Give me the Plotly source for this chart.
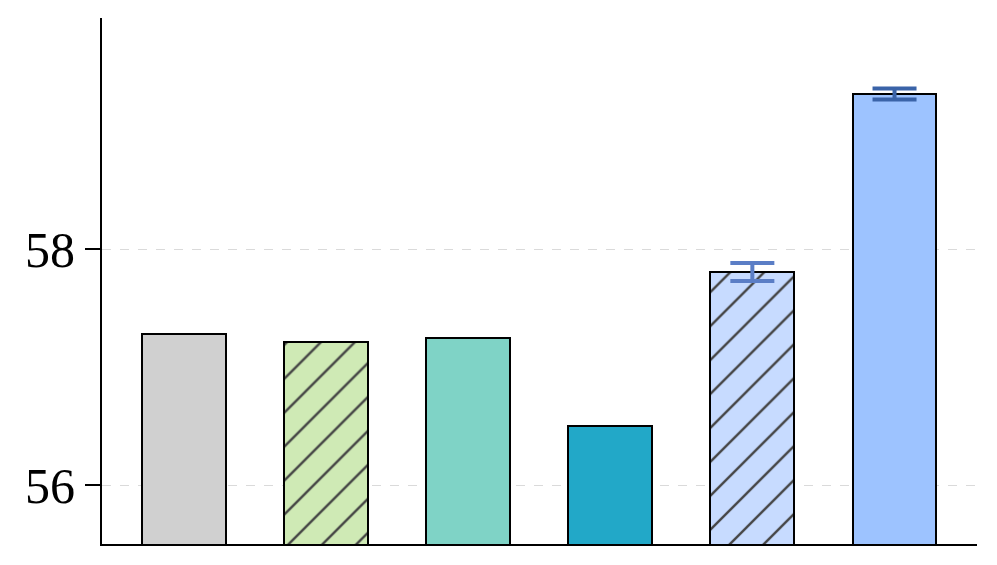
import plotly.graph_objects as go

categories = [0, 1, 2, 3, 4, 5]
values = [57.28, 57.215, 57.25, 56.50, 57.806, 59.316]
colors = ["#d0d0d0", "#cfeab5", "#7fd3c6", "#22a8c8", "#c7dbff", "#9dc3ff"]
hatches = ["", "/", "", "", "/", ""]
err_idx = [4, 5]
err_vals = [0.076, 0.046]
err_colors = ["#5b7ec6", "#3a63a8"]
yticks = [56, 58]

fig = go.Figure()
fig.add_trace(go.Bar(
    x=categories, y=values, width=0.59,
    marker=dict(color=colors, line=dict(color="black", width=2),
                pattern=dict(shape=hatches, fgcolor="black", fgopacity=1, size=24,
                             solidity=0.1, fillmode="overlay")),
    showlegend=False,
))
for i, e, c in zip(err_idx, err_vals, err_colors):
    fig.add_trace(go.Scatter(
        x=[categories[i]], y=[values[i]], mode="markers",
        marker=dict(size=0.1, color="rgba(0,0,0,0)"),
        error_y=dict(type="data", array=[e], color=c, thickness=4, width=22),
        showlegend=False,
    ))

fig.update_layout(
    width=989, height=557,
    margin=dict(l=94, r=20, t=10, b=21, autoexpand=False),
    plot_bgcolor="white", paper_bgcolor="white",
    bargap=0,
)
fig.update_xaxes(range=[-0.574, 5.58], showline=True, linecolor="black", linewidth=2,
                 showticklabels=False, ticks="", showgrid=False, zeroline=False)
fig.update_yaxes(range=[55.5, 59.96], showline=True, linecolor="black", linewidth=2,
                 tickvals=yticks, ticks="outside", ticklen=15, tickwidth=2, tickcolor="black",
                 tickfont=dict(family="Liberation Serif", size=50, color="black"),
                 showgrid=True, gridcolor="#dadada", griddash="dash", gridwidth=1, zeroline=False)
fig.write_html("out.html")
